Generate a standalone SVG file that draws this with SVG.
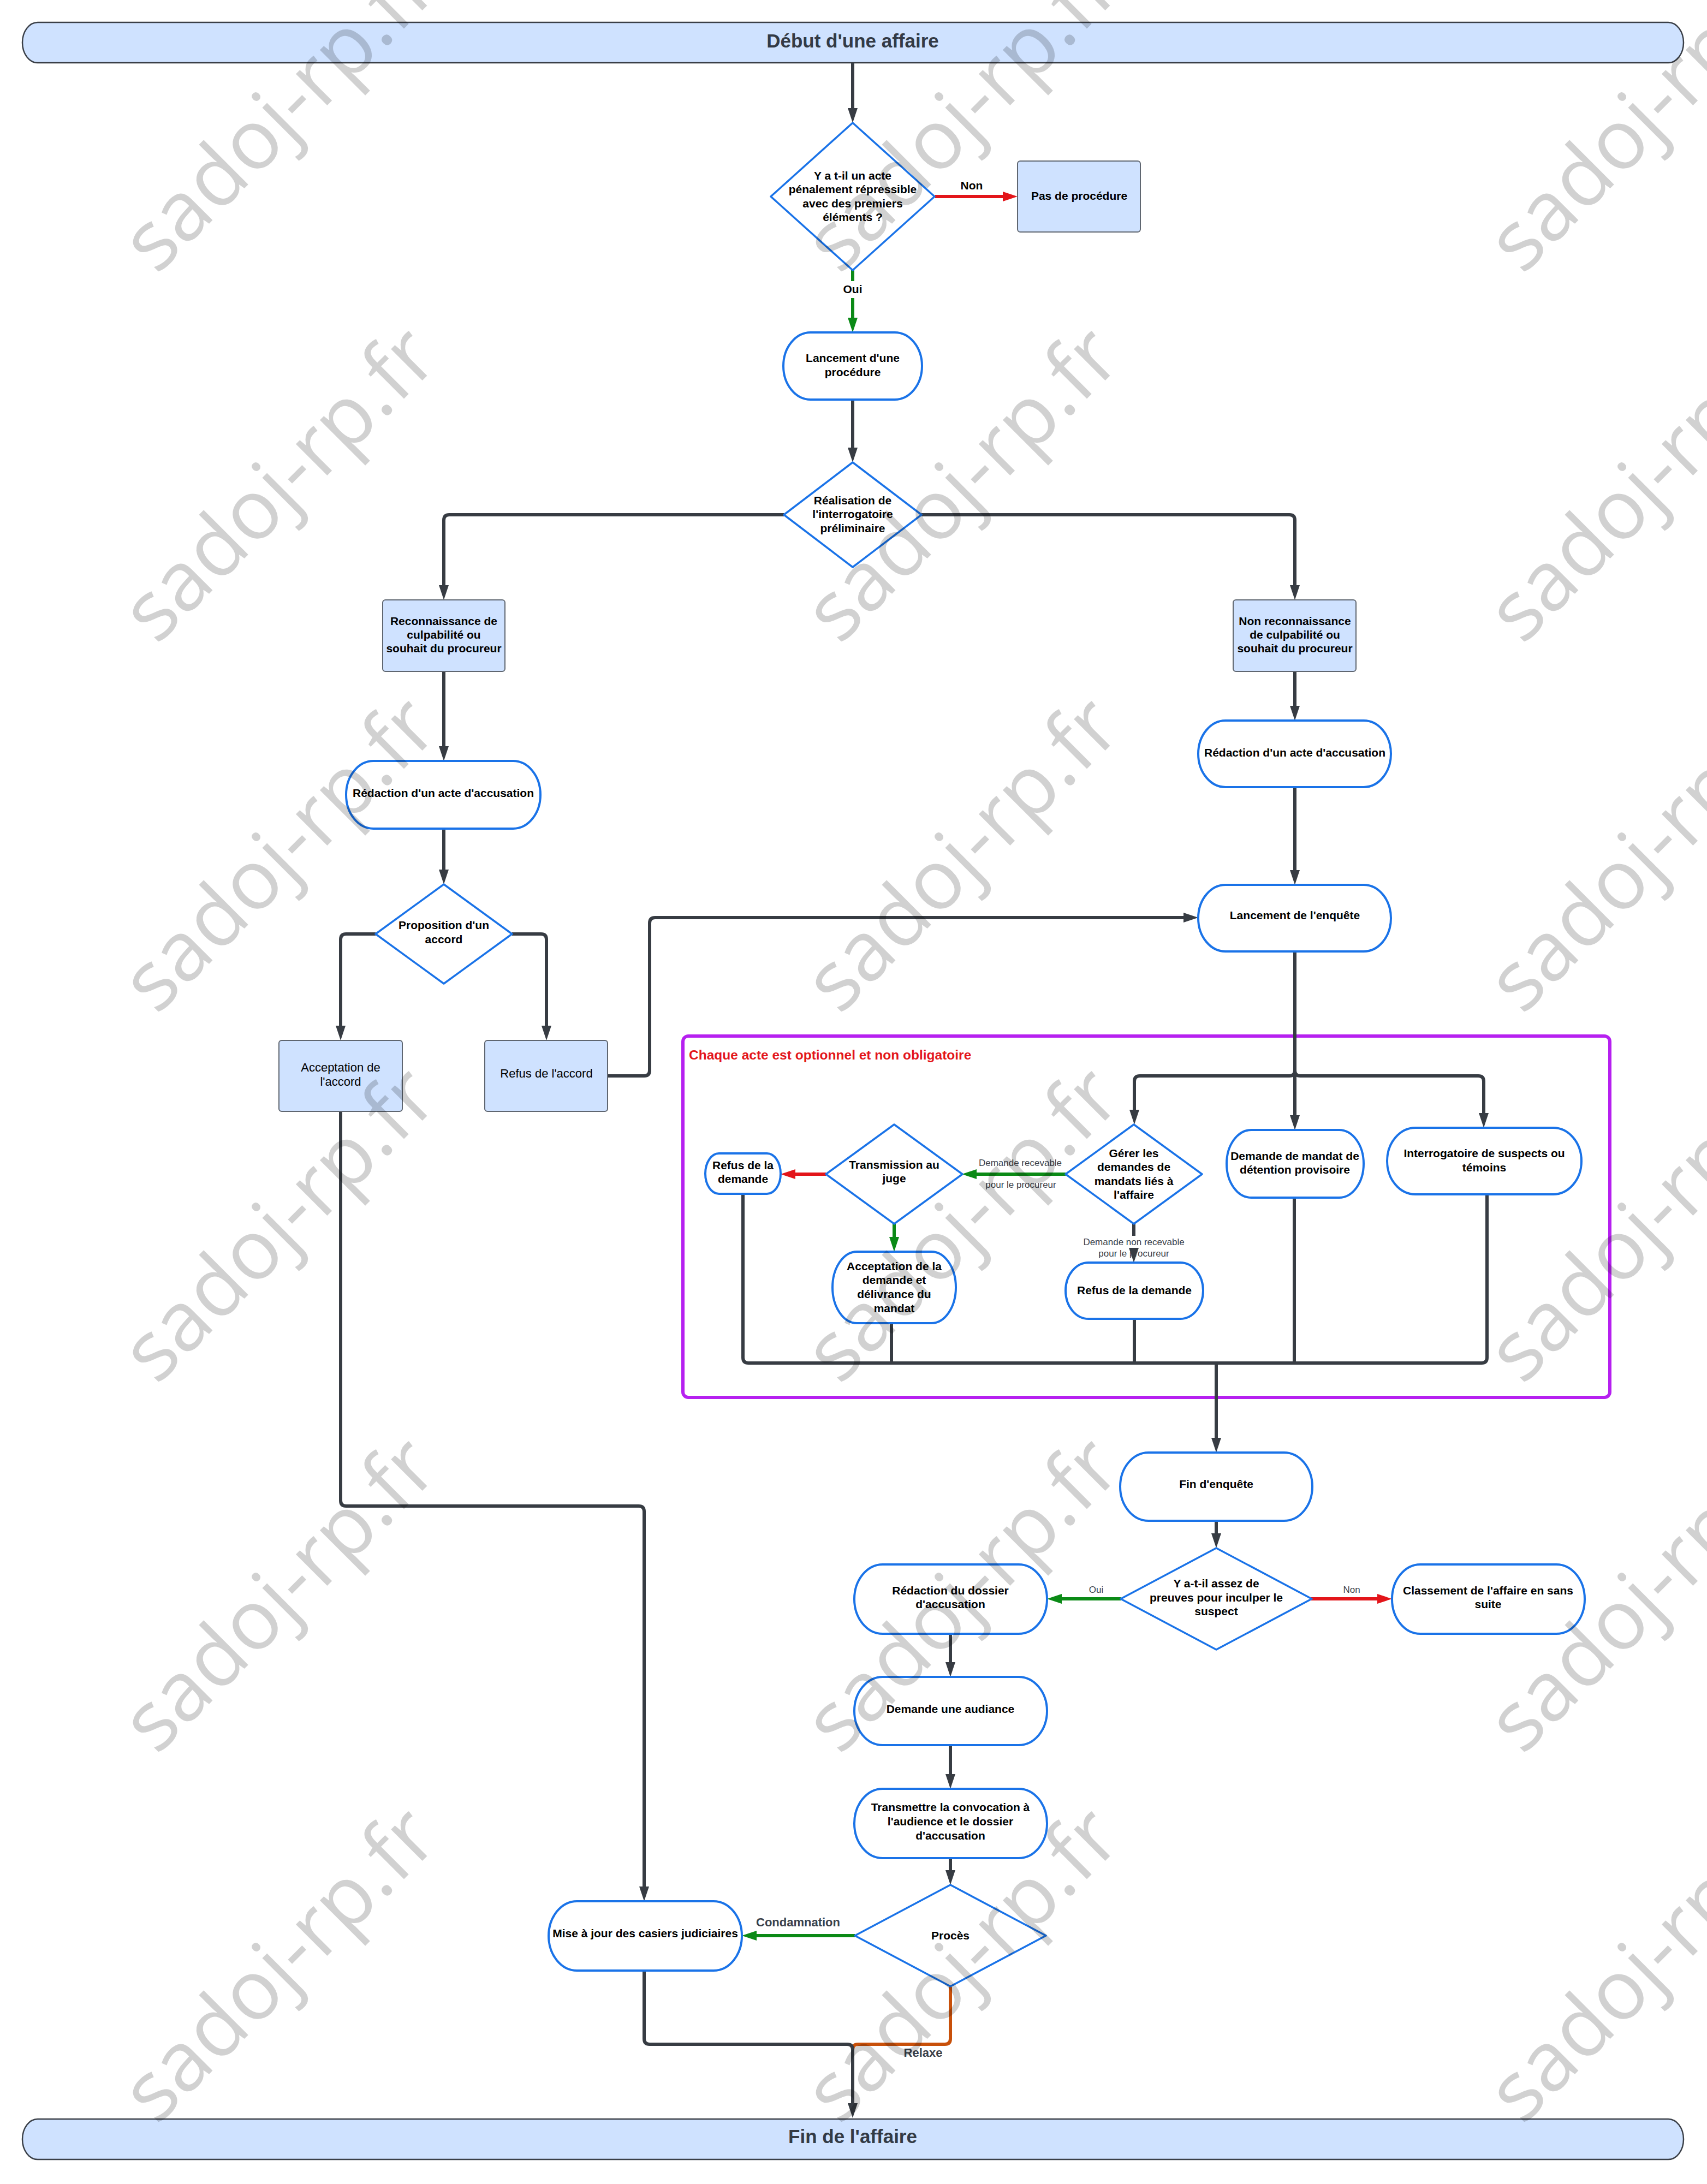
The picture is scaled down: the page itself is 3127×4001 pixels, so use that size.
<svg xmlns="http://www.w3.org/2000/svg" width="3127" height="4001" viewBox="0 0 3127 4001">
<defs>
<style>
text{font-family:"Liberation Sans",Arial,sans-serif}
.t{font-weight:bold;font-size:21px;text-anchor:middle;fill:#000}
.reg{font-weight:normal;font-size:22px}
.term{fill:#fff;stroke:#1a73e8;stroke-width:4}
.dia{fill:#fff;stroke:#1a73e8;stroke-width:3.5;stroke-linejoin:round}
.box{fill:#cfe2ff;stroke:#5f6670;stroke-width:2}
.bar{fill:#cfe2ff;stroke:#3a3f47;stroke-width:2.5}
.bartxt{font-weight:bold;font-size:35px;text-anchor:middle;fill:#333a45}
.c{fill:none;stroke:#373c43;stroke-width:6;stroke-linejoin:round}
.cg{stroke:#0b8a16}
.cr{stroke:#e3151a}
.co{stroke:#c8500a}
.lbl{font-size:17px;fill:#3a414a;text-anchor:middle}
.lblb{font-size:22px;font-weight:bold;fill:#3a414a;text-anchor:middle}
.wm{font-family:"Open Sans","Noto Sans",sans-serif;font-size:152px;fill:#000;fill-opacity:0.18;text-anchor:middle}
</style>
<marker id="ak" viewBox="0 0 27 18" refX="15" refY="9" markerWidth="27" markerHeight="18" markerUnits="userSpaceOnUse" orient="auto"><path d="M0,0 L27,9 L0,18 z" fill="#373c43"/></marker>
<marker id="ag" viewBox="0 0 27 18" refX="15" refY="9" markerWidth="27" markerHeight="18" markerUnits="userSpaceOnUse" orient="auto"><path d="M0,0 L27,9 L0,18 z" fill="#0b8a16"/></marker>
<marker id="ar" viewBox="0 0 27 18" refX="15" refY="9" markerWidth="27" markerHeight="18" markerUnits="userSpaceOnUse" orient="auto"><path d="M0,0 L27,9 L0,18 z" fill="#e3151a"/></marker>
</defs>
<rect width="3127" height="4001" fill="#fff"/>

<g id="container">
<rect x="1251" y="1898" width="1698" height="662" rx="10" fill="none" stroke="#b620f0" stroke-width="6"/>
<text x="1262" y="1941" font-size="24.5" font-weight="bold" fill="#e3151a">Chaque acte est optionnel et non obligatoire</text>
</g>

<g id="connectors">
<path class="c" d="M1562,115 V213" marker-end="url(#ak)"/>
<path class="c cr" d="M1713,360 H1852" marker-end="url(#ar)"/>
<text class="t" x="1780" y="347">Non</text>
<path class="c cg" d="M1562,495 V515"/>
<path class="c cg" d="M1562,546 V597" marker-end="url(#ag)"/>
<text class="t" x="1562" y="537">Oui</text>
<path class="c" d="M1562,732 V835" marker-end="url(#ak)"/>
<path class="c" d="M1436,943 H823 Q813,943 813,953 V1087" marker-end="url(#ak)"/>
<path class="c" d="M1688,943 H2362 Q2372,943 2372,953 V1087" marker-end="url(#ak)"/>
<path class="c" d="M813,1230 V1382" marker-end="url(#ak)"/>
<path class="c" d="M813,1518 V1608" marker-end="url(#ak)"/>
<path class="c" d="M688,1711 H634 Q624,1711 624,1721 V1894" marker-end="url(#ak)"/>
<path class="c" d="M938,1711 H991 Q1001,1711 1001,1721 V1894" marker-end="url(#ak)"/>
<path class="c" d="M1113,1971 H1180 Q1190,1971 1190,1961 V1691 Q1190,1681 1200,1681 H2183" marker-end="url(#ak)"/>
<path class="c" d="M2372,1230 V1308" marker-end="url(#ak)"/>
<path class="c" d="M2372,1442 V1609" marker-end="url(#ak)"/>
<path class="c" d="M2372,1743 V1961 Q2372,1971 2362,1971 H2088 Q2078,1971 2078,1981 V2048" marker-end="url(#ak)"/>
<path class="c" d="M2372,1743 V2058" marker-end="url(#ak)"/>
<path class="c" d="M2372,1961 Q2372,1971 2382,1971 H2708 Q2718,1971 2718,1981 V2054" marker-end="url(#ak)"/>
<path class="c cg" d="M1952,2151 H1774" marker-end="url(#ag)"/>
<text class="lbl" x="1869" y="2136">Demande recevable</text>
<text class="lbl" x="1870" y="2176">pour le procureur</text>
<path class="c cr" d="M1513,2151 H1442" marker-end="url(#ar)"/>
<path class="c cg" d="M1638,2241 V2281" marker-end="url(#ag)"/>
<path class="c" d="M2077,2241 V2264"/>
<text class="lbl" x="2077" y="2281">Demande non recevable</text>
<text class="lbl" x="2077" y="2302">pour le procureur</text>
<path class="c" d="M2077,2287 V2301" marker-end="url(#ak)"/>
<path class="c" d="M1361,2187 V2487 Q1361,2497 1371,2497 H2714 Q2724,2497 2724,2487 V2188"/>
<path class="c" d="M1633,2424 V2497"/>
<path class="c" d="M2078,2416 V2497"/>
<path class="c" d="M2371,2194 V2497"/>
<path class="c" d="M2228,2497 V2649" marker-end="url(#ak)"/>
<path class="c" d="M2228,2786 V2824" marker-end="url(#ak)"/>
<path class="c cg" d="M2053,2929 H1930" marker-end="url(#ag)"/>
<text class="lbl" x="2008" y="2918">Oui</text>
<path class="c cr" d="M2402,2929 H2538" marker-end="url(#ar)"/>
<text class="lbl" x="2476" y="2918">Non</text>
<path class="c" d="M1741,2993 V3060" marker-end="url(#ak)"/>
<path class="c" d="M1741,3197 V3265" marker-end="url(#ak)"/>
<path class="c" d="M1741,3404 V3441" marker-end="url(#ak)"/>
<path class="c cg" d="M1566,3546 H1371" marker-end="url(#ag)"/>
<text class="lblb" x="1462" y="3529">Condamnation</text>
<path class="c" d="M624,2036 V2749 Q624,2759 634,2759 H1170 Q1180,2759 1180,2769 V3471" marker-end="url(#ak)"/>
<path class="c co" d="M1741,3640 V3735 Q1741,3745 1731,3745 H1572 Q1562,3745 1562,3755"/>
<path class="c" d="M1180,3610 V3735 Q1180,3745 1190,3745 H1552 Q1562,3745 1562,3755 V3868" marker-end="url(#ak)"/>
<text class="lblb" x="1691" y="3768">Relaxe</text>
</g>

<g id="n-debut"><rect class="bar" x="41" y="41" width="3043" height="74" rx="28" ry="37"/><text class="bartxt" x="1562" y="87">Début d'une affaire</text></g>
<g id="n-fin"><rect class="bar" x="41" y="3882" width="3043" height="74" rx="28" ry="37"/><text class="bartxt" x="1562" y="3926">Fin de l'affaire</text></g>

<g id="n-d1"><polygon class="dia" points="1562,225 1712,360 1562,495 1412,360"/>
<text class="t" x="1562" y="329">Y a t-il un acte</text><text class="t" x="1562" y="354">pénalement répressible</text><text class="t" x="1562" y="380">avec des premiers</text><text class="t" x="1562" y="405">éléments ?</text></g>
<g id="n-pasproc"><rect class="box" x="1864" y="295" width="225" height="130" rx="5"/><text class="t" x="1977" y="366">Pas de procédure</text></g>
<g id="n-lancproc"><rect class="term" x="1435" y="609" width="254" height="123" rx="50" ry="61.5"/><text class="t" x="1562" y="663">Lancement d'une</text><text class="t" x="1562" y="689">procédure</text></g>
<g id="n-d2"><polygon class="dia" points="1562,847 1688,943 1562,1039 1436,943"/>
<text class="t" x="1562" y="924">Réalisation de</text><text class="t" x="1562" y="949">l'interrogatoire</text><text class="t" x="1562" y="975">préliminaire</text></g>
<g id="n-reconn"><rect class="box" x="701" y="1099" width="224" height="131" rx="5"/><text class="t" x="813" y="1145">Reconnaissance de</text><text class="t" x="813" y="1170">culpabilité ou</text><text class="t" x="813" y="1195">souhait du procureur</text></g>
<g id="n-nonreconn"><rect class="box" x="2259" y="1099" width="225" height="131" rx="5"/><text class="t" x="2372" y="1145">Non reconnaissance</text><text class="t" x="2372" y="1170">de culpabilité ou</text><text class="t" x="2372" y="1195">souhait du procureur</text></g>
<g id="n-redacL"><rect class="term" x="634" y="1394" width="356" height="124" rx="50" ry="62"/><text class="t" x="812" y="1460">Rédaction d'un acte d'accusation</text></g>
<g id="n-propo"><polygon class="dia" points="813,1620 938,1711 813,1802 688,1711"/>
<text class="t" x="813" y="1702">Proposition d'un</text><text class="t" x="813" y="1728">accord</text></g>
<g id="n-acceptacc"><rect class="box" x="511" y="1906" width="226" height="130" rx="5"/><text class="t reg" x="624" y="1963">Acceptation de</text><text class="t reg" x="624" y="1989">l'accord</text></g>
<g id="n-refusacc"><rect class="box" x="888" y="1906" width="225" height="130" rx="5"/><text class="t reg" x="1001" y="1974">Refus de l'accord</text></g>
<g id="n-redacR"><rect class="term" x="2195" y="1320" width="353" height="122" rx="50" ry="61"/><text class="t" x="2372" y="1386">Rédaction d'un acte d'accusation</text></g>
<g id="n-lancenq"><rect class="term" x="2195" y="1621" width="353" height="122" rx="50" ry="61"/><text class="t" x="2372" y="1684">Lancement de l'enquête</text></g>
<g id="n-gerer"><polygon class="dia" points="2077,2060 2202,2151 2077,2242 1952,2151"/>
<text class="t" x="2077" y="2120">Gérer les</text><text class="t" x="2077" y="2145">demandes de</text><text class="t" x="2077" y="2171">mandats liés à</text><text class="t" x="2077" y="2196">l'affaire</text></g>
<g id="n-mandat"><rect class="term" x="2247" y="2070" width="251" height="124" rx="45" ry="62"/><text class="t" x="2372" y="2125">Demande de mandat de</text><text class="t" x="2372" y="2150">détention provisoire</text></g>
<g id="n-interrog"><rect class="term" x="2541" y="2066" width="356" height="122" rx="52" ry="61"/><text class="t" x="2719" y="2120">Interrogatoire de suspects ou</text><text class="t" x="2719" y="2146">témoins</text></g>
<g id="n-transm"><polygon class="dia" points="1638,2060 1763,2151 1638,2242 1513,2151"/>
<text class="t" x="1638" y="2141">Transmission au</text><text class="t" x="1638" y="2166">juge</text></g>
<g id="n-refusdemL"><rect class="term" x="1292" y="2113" width="138" height="74" rx="25" ry="37"/><text class="t" x="1361" y="2142">Refus de la</text><text class="t" x="1361" y="2167">demande</text></g>
<g id="n-acceptdem"><rect class="term" x="1525" y="2293" width="226" height="131" rx="45" ry="65.5"/><text class="t" x="1638" y="2327">Acceptation de la</text><text class="t" x="1638" y="2352">demande et</text><text class="t" x="1638" y="2378">délivrance du</text><text class="t" x="1638" y="2404">mandat</text></g>
<g id="n-refusdemR"><rect class="term" x="1952" y="2313" width="252" height="103" rx="42" ry="51.5"/><text class="t" x="2078" y="2371">Refus de la demande</text></g>
<g id="n-finenq"><rect class="term" x="2052" y="2661" width="352" height="125" rx="52" ry="62.5"/><text class="t" x="2228" y="2726">Fin d'enquête</text></g>
<g id="n-preuves"><polygon class="dia" points="2228,2836 2403,2929 2228,3022 2053,2929"/>
<text class="t" x="2228" y="2908">Y a-t-il assez de</text><text class="t" x="2228" y="2934">preuves pour inculper le</text><text class="t" x="2228" y="2959">suspect</text></g>
<g id="n-classement"><rect class="term" x="2550" y="2866" width="353" height="127" rx="52" ry="63.5"/><text class="t" x="2726" y="2921">Classement de l'affaire en sans</text><text class="t" x="2726" y="2946">suite</text></g>
<g id="n-redacdossier"><rect class="term" x="1565" y="2866" width="353" height="127" rx="52" ry="63.5"/><text class="t" x="1741" y="2921">Rédaction du dossier</text><text class="t" x="1741" y="2946">d'accusation</text></g>
<g id="n-audiance"><rect class="term" x="1565" y="3072" width="353" height="125" rx="52" ry="62.5"/><text class="t" x="1741" y="3138">Demande une audiance</text></g>
<g id="n-transmettre"><rect class="term" x="1565" y="3277" width="353" height="127" rx="52" ry="63.5"/><text class="t" x="1741" y="3318">Transmettre la convocation à</text><text class="t" x="1741" y="3344">l'audience et le dossier</text><text class="t" x="1741" y="3370">d'accusation</text></g>
<g id="n-proces"><polygon class="dia" points="1741,3453 1916,3546 1741,3639 1566,3546"/>
<text class="t" x="1741" y="3553">Procès</text></g>
<g id="n-maj"><rect class="term" x="1005" y="3483" width="354" height="127" rx="52" ry="63.5"/><text class="t" x="1182" y="3549">Mise à jour des casiers judiciaires</text></g>

<g id="watermark">
<text class="wm" x="516" y="258" transform="rotate(-45 516 213)">sadoj-rp.fr</text>
<text class="wm" x="1767" y="258" transform="rotate(-45 1767 213)">sadoj-rp.fr</text>
<text class="wm" x="3018" y="258" transform="rotate(-45 3018 213)">sadoj-rp.fr</text>
<text class="wm" x="516" y="936" transform="rotate(-45 516 891)">sadoj-rp.fr</text>
<text class="wm" x="1767" y="936" transform="rotate(-45 1767 891)">sadoj-rp.fr</text>
<text class="wm" x="3018" y="936" transform="rotate(-45 3018 891)">sadoj-rp.fr</text>
<text class="wm" x="516" y="1614" transform="rotate(-45 516 1569)">sadoj-rp.fr</text>
<text class="wm" x="1767" y="1614" transform="rotate(-45 1767 1569)">sadoj-rp.fr</text>
<text class="wm" x="3018" y="1614" transform="rotate(-45 3018 1569)">sadoj-rp.fr</text>
<text class="wm" x="516" y="2292" transform="rotate(-45 516 2247)">sadoj-rp.fr</text>
<text class="wm" x="1767" y="2292" transform="rotate(-45 1767 2247)">sadoj-rp.fr</text>
<text class="wm" x="3018" y="2292" transform="rotate(-45 3018 2247)">sadoj-rp.fr</text>
<text class="wm" x="516" y="2970" transform="rotate(-45 516 2925)">sadoj-rp.fr</text>
<text class="wm" x="1767" y="2970" transform="rotate(-45 1767 2925)">sadoj-rp.fr</text>
<text class="wm" x="3018" y="2970" transform="rotate(-45 3018 2925)">sadoj-rp.fr</text>
<text class="wm" x="516" y="3648" transform="rotate(-45 516 3603)">sadoj-rp.fr</text>
<text class="wm" x="1767" y="3648" transform="rotate(-45 1767 3603)">sadoj-rp.fr</text>
<text class="wm" x="3018" y="3648" transform="rotate(-45 3018 3603)">sadoj-rp.fr</text>
</g>
</svg>
